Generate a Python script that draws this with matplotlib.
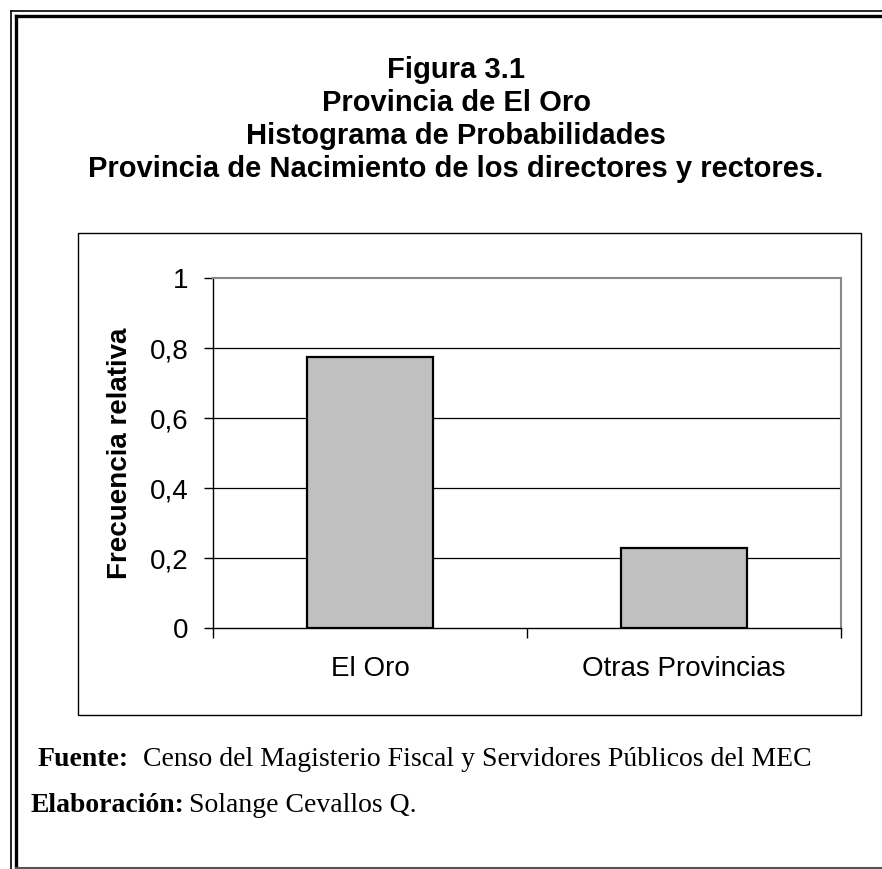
import numpy as np
import matplotlib
matplotlib.use('Agg')
import matplotlib.pyplot as plt
from matplotlib.patches import Rectangle
from matplotlib.lines import Line2D

# --- Data ---
categories = ["El Oro", "Otras Provincias"]
freq_rel = [0.774, 0.229]
y_ticks = [0, 0.2, 0.4, 0.6, 0.8, 1]
y_tick_labels = ["0", "0,2", "0,4", "0,6", "0,8", "1"]

title_lines = ["Figura 3.1", "Provincia de El Oro", "Histograma de Probabilidades",
               "Provincia de Nacimiento de los directores y rectores."]

W, H = 882, 869
fig = plt.figure(figsize=(W / 100, H / 100), dpi=100, facecolor='white')

def fx(px):
    return px / W

def fy(py):
    return 1 - py / H

# --- Outer double frame (left/top, cut at right) ---
fig.add_artist(Line2D([fx(10.5), fx(10.5)], [fy(10.5), 0], transform=fig.transFigure, color='black', lw=1.2))
fig.add_artist(Line2D([fx(10.5), 1], [fy(10.5), fy(10.5)], transform=fig.transFigure, color='black', lw=1.2))
fig.add_artist(Line2D([fx(15.5), fx(15.5)], [fy(15.5), fy(868)], transform=fig.transFigure, color='black', lw=2.4))
fig.add_artist(Line2D([fx(15.5), 1], [fy(15.5), fy(15.5)], transform=fig.transFigure, color='black', lw=2.4))
fig.add_artist(Line2D([fx(15.5), 1], [fy(868), fy(868)], transform=fig.transFigure, color='#555555', lw=1.5))

# --- Title ---
for i, line in enumerate(title_lines):
    fig.text(fx(456), fy(70 + 33 * i), line, ha='center', va='center',
             fontsize=21, fontweight='bold', family='Liberation Sans')

# --- Chart box ---
fig.add_artist(Rectangle((fx(78), fy(715)), fx(861) - fx(78), fy(233) - fy(715),
                         transform=fig.transFigure, fill=False, edgecolor='black', lw=1.0))

# --- Axes ---
ax = fig.add_axes([fx(213), fy(628), fx(841) - fx(213), fy(278) - fy(628)])
x = np.arange(len(categories))
ax.bar(x, freq_rel, width=0.4, color='#C0C0C0', edgecolor='black', linewidth=1.6, zorder=3)
ax.set_xlim(-0.5, len(categories) - 0.5)
ax.set_ylim(0, 1)

for yv in y_ticks[1:-1]:
    ax.axhline(yv, color='black', lw=0.9, zorder=1)

ax.set_yticks(y_ticks)
ax.set_yticklabels(y_tick_labels, family='Liberation Sans', fontsize=20)
ax.set_xticks(x)
ax.set_xticklabels(categories, family='Liberation Sans', fontsize=20)
ax.tick_params(axis='x', which='major', length=0, pad=20)
ax.set_xticks([-0.5, 0.5, 1.5], minor=True)
ax.tick_params(axis='x', which='minor', length=7, width=1, color='black', direction='out')
ax.tick_params(axis='y', length=6.5, width=1, direction='out', pad=11)

ax.spines['left'].set_color('black')
ax.spines['bottom'].set_color('black')
ax.spines['left'].set_linewidth(1.0)
ax.spines['bottom'].set_linewidth(1.0)
ax.spines['top'].set_color('#888888')
ax.spines['right'].set_color('#888888')
ax.spines['top'].set_linewidth(1.5)
ax.spines['right'].set_linewidth(1.5)

ax.set_ylabel("Frecuencia relativa", family='Liberation Sans', fontsize=20, fontweight='bold')
ax.yaxis.set_label_coords((133 - 213) / (841 - 213), 0.5)

# --- Footer ---
fig.text(fx(38), fy(759), "Fuente:", family='Liberation Serif', fontweight='bold',
         fontsize=20, va='center', ha='left')
fig.text(fx(143), fy(759), "Censo del Magisterio Fiscal y Servidores Públicos del MEC",
         family='Liberation Serif', fontsize=20, va='center', ha='left')
fig.text(fx(31), fy(806), "Elaboración:", family='Liberation Serif', fontweight='bold',
         fontsize=20, va='center', ha='left')
fig.text(fx(189), fy(806), "Solange Cevallos Q.", family='Liberation Serif',
         fontsize=20, va='center', ha='left')

plt.savefig('out.png', dpi=100, facecolor='white')
